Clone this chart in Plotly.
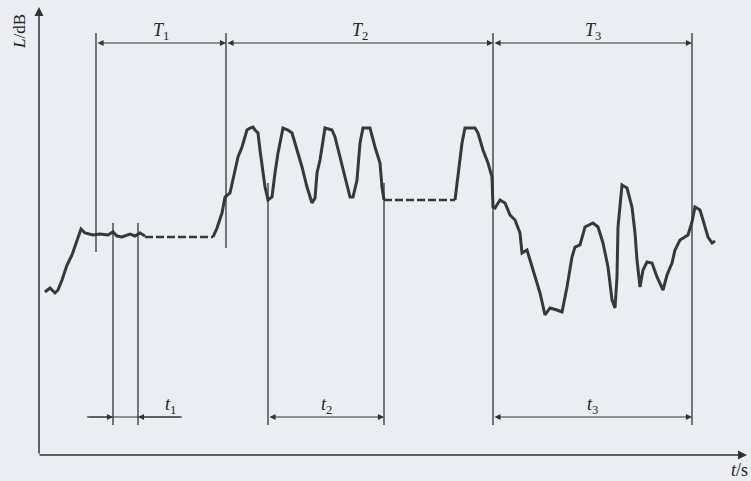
import plotly.graph_objects as go

# Sound level trace (t in arbitrary time units, L in arbitrary level units)
t_curve = [45, 50, 55, 58, 62, 67, 72, 75, 78, 81, 85, 93, 100, 108, 113, 117, 122, 127, 130, 135, 140, 145,
           None,
           213, 217, 222, 225, 230, 233, 238, 242, 247, 250, 253, 255, 258, 260, 262, 265, 268, 272, 275, 278,
           282, 283, 288, 292, 297, 302, 307, 312, 315, 317, 320, 323, 325, 332, 335, 340, 345, 350, 353, 357,
           360, 363, 370, 375, 380, 382, 384,
           None,
           455, 458, 462, 465, 475, 478, 483, 488, 492, 493, 495, 500, 505, 510, 515, 520, 522, 527, 533, 540,
           545, 550, 557, 562, 567, 572, 575, 580, 585, 593, 598, 603, 608, 612, 615, 617, 618, 622, 627, 632,
           635, 637, 640, 643, 647, 652, 657, 663, 667, 672, 675, 680, 688, 692, 695, 700, 703, 708, 712, 715]
L_curve = [189, 193, 188, 191, 201, 216, 226, 234, 244, 252, 248, 246, 247, 246, 249, 245, 244, 246, 247, 245, 248, 245,
           None,
           244, 253, 268, 284, 288, 301, 324, 334, 351, 353, 354, 351, 348, 331, 314, 294, 281, 284, 308, 328,
           348, 353, 351, 348, 331, 314, 294, 278, 283, 308, 321, 338, 353, 351, 344, 324, 304, 284, 284, 301,
           338, 353, 353, 334, 318, 294, 281,
           None,
           281, 308, 338, 353, 353, 348, 331, 318, 304, 274, 273, 281, 278, 266, 261, 248, 228, 231, 211, 188,
           166, 173, 171, 169, 194, 224, 234, 236, 254, 258, 254, 238, 214, 181, 173, 204, 254, 296, 293, 274,
           248, 221, 194, 211, 219, 218, 204, 191, 206, 218, 231, 241, 246, 259, 274, 271, 261, 244, 238, 240]

# Steady (flat) segments drawn broken
flat_t = [[145, 213], [384, 455]]
flat_L = [[244, 244], [281, 281]]

# Interval boundaries
T_bounds = [96, 226, 493, 692]
T_labels = ["T", "T", "T"]
t_bounds = [(113, 138), (268, 384), (493, 692)]
t_line_top = [258, 298, 448]
T_line_bottom = [229, 233, 56, 56]

INK = "#333333"
CURVE = "#383838"
TXT = "#222222"
SERIF = "Liberation Serif, DejaVu Serif, serif"

fig = go.Figure()
fig.add_trace(go.Scatter(x=t_curve, y=L_curve, mode="lines", connectgaps=False,
                         line=dict(color=CURVE, width=3), hoverinfo="skip", showlegend=False))
for ft, fl in zip(flat_t, flat_L):
    fig.add_trace(go.Scatter(x=ft, y=fl, mode="lines",
                             line=dict(color=CURVE, width=2.6, dash="8px,3px"),
                             hoverinfo="skip", showlegend=False))

shapes = []
annotations = []
T_row = 438
t_row = 64
top = 448


def arrow(x, y, ax, ay, both=False, size=1.1, width=1.1):
    d = dict(x=x, y=y, ax=ax, ay=ay, xref="x", yref="y", axref="x", ayref="y",
             text="", showarrow=True, arrowhead=2, arrowsize=size, arrowwidth=width, arrowcolor=INK)
    if both:
        d["arrowside"] = "end+start"
    return d


# T vertical boundary lines
for xb, yb in zip(T_bounds, T_line_bottom):
    shapes.append(dict(type="line", x0=xb, x1=xb, y0=top, y1=yb, line=dict(color=INK, width=1.3)))
# T double arrows and labels
for i in range(3):
    a, b = T_bounds[i], T_bounds[i + 1]
    annotations.append(arrow(b, T_row, a, T_row, both=True))
    annotations.append(dict(x=(a + b) / 2, y=450, xref="x", yref="y",
                            text="<i>%s</i><sub>%d</sub>" % (T_labels[i], i + 1), showarrow=False,
                            font=dict(family=SERIF, size=18, color=TXT), yanchor="middle"))

# t vertical lines
for (a, b), ytop in zip(t_bounds, t_line_top):
    for xb in (a, b):
        if xb in T_bounds:
            continue
        shapes.append(dict(type="line", x0=xb, x1=xb, y0=ytop, y1=56, line=dict(color=INK, width=1.3)))

# t1: arrows pointing inward from outside
a, b = t_bounds[0]
shapes.append(dict(type="line", x0=87, x1=182, y0=t_row, y1=t_row, line=dict(color=INK, width=1.1)))
annotations.append(arrow(a, t_row, 87, t_row))
annotations.append(arrow(b, t_row, 182, t_row))
annotations.append(dict(x=170, y=76, xref="x", yref="y", text="<i>t</i><sub>1</sub>", showarrow=False,
                        font=dict(family=SERIF, size=18, color=TXT)))
# t2, t3 double arrows
for i in (1, 2):
    a, b = t_bounds[i]
    annotations.append(arrow(b, t_row, a, t_row, both=True))
    annotations.append(dict(x=(a + b) / 2, y=76, xref="x", yref="y",
                            text="<i>t</i><sub>%d</sub>" % (i + 1), showarrow=False,
                            font=dict(family=SERIF, size=18, color=TXT)))

# Axes with arrows
annotations.append(arrow(39, 474, 39, 26, size=1.2, width=1.5))
annotations.append(arrow(747, 26, 38, 26, size=1.2, width=1.5))
annotations.append(dict(x=19, y=449, xref="x", yref="y", text="<i>L</i>/dB", textangle=-90, showarrow=False,
                        font=dict(family=SERIF, size=17, color=TXT)))
annotations.append(dict(x=739, y=11, xref="x", yref="y", text="<i>t</i>/s", showarrow=False,
                        font=dict(family=SERIF, size=18, color=TXT)))

fig.update_layout(
    width=751, height=481,
    margin=dict(l=0, r=0, t=0, b=0),
    paper_bgcolor="#eaedf1", plot_bgcolor="#eaedf1",
    xaxis=dict(range=[0, 751], visible=False, fixedrange=True),
    yaxis=dict(range=[0, 481], visible=False, fixedrange=True),
    shapes=shapes, annotations=annotations, showlegend=False,
)
fig.write_html("out.html", config={"displayModeBar": False},
               post_script="document.body.style.margin='0';document.body.style.background='#eaedf1';")
